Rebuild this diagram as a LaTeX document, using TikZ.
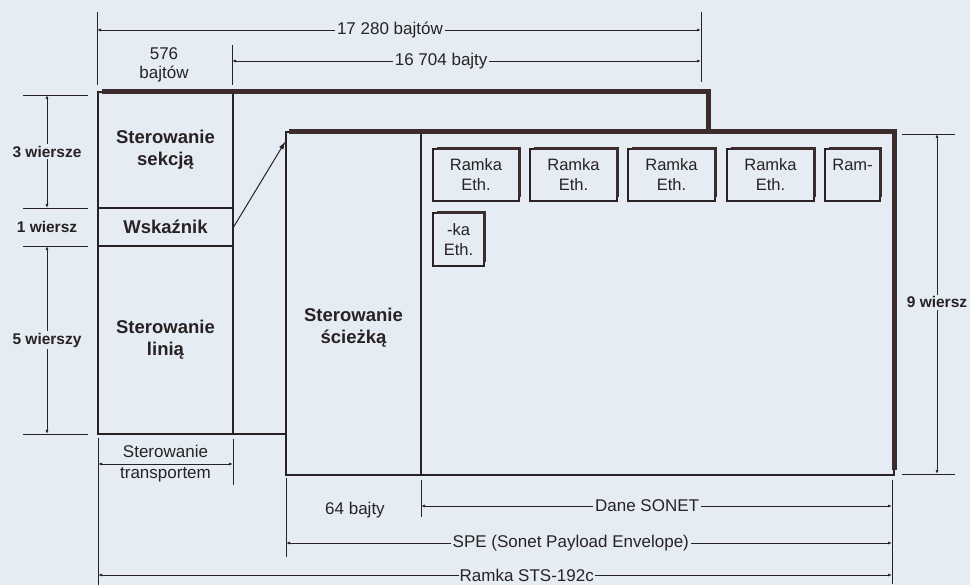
\documentclass[tikz,border=0pt]{standalone}
\usepackage{fontspec}
\setmainfont{Liberation Sans}
\usetikzlibrary{arrows.meta,positioning,calc}
\definecolor{bgpaper}{RGB}{229,236,243}
\definecolor{inkdark}{RGB}{40,34,36}
\definecolor{inkframe}{RGB}{60,44,46}

\begin{document}
\begin{tikzpicture}[x=1pt,y=-1pt,
  cell/.style={draw=inkdark, line width=1.2pt, rectangle, inner sep=0pt, align=center, text=inkdark, font=\fontsize{18.5}{22}\selectfont\bfseries},
  eth/.style={draw=inkdark, line width=1.1pt, rectangle, inner sep=0pt, fill=bgpaper, align=center, text=inkdark, font=\fontsize{16.5}{20}\selectfont},
  lbl/.style={inner sep=2pt, align=center, text=inkdark, font=\fontsize{17}{19}\selectfont},
  rowlbl/.style={inner sep=2pt, fill=bgpaper, text=inkdark, font=\fontsize{15.5}{18}\selectfont\bfseries},
  dim/.style={{Latex[length=4pt,width=3pt]}-{Latex[length=4pt,width=3pt]}, line width=0.9pt, draw=inkdark},
  ext/.style={line width=0.9pt, draw=inkdark},
  heavy/.style={line width=4.5pt, draw=inkframe},
  arr/.style={-{Latex[length=8pt,width=5pt]}, line width=1pt, draw=inkdark}
]
\fill[bgpaper] (0,0) rectangle (970,585);
\useasboundingbox (0,0) rectangle (970,585);

\node[cell, minimum width=610pt, minimum height=342pt] (sts) at (403,263) {};
\node[cell, minimum width=135pt, minimum height=116pt] (soh) at (165.5,150) {Sterowanie\\sekcją};
\node[cell, minimum width=135pt, minimum height=38pt] (ptr) at (165.5,227) {Wskaźnik};
\node[cell, minimum width=135pt, minimum height=188pt] (loh) at (165.5,340) {Sterowanie\\linią};
\draw[heavy] ([xshift=5pt]sts.north west) -- (sts.north east) -- ++(0,42);

\node[cell, fill=bgpaper, minimum width=608pt, minimum height=343pt] (spe) at (590,303.5) {};
\node[cell, minimum width=135pt, minimum height=343pt] (poh) at (353.5,303.5) {};
\node[cell, draw=none] (pohtxt) at (353.5,328) {Sterowanie\\ścieżką};
\draw[heavy] ([xshift=4pt]spe.north west) -- (spe.north east) -- ([yshift=6pt]spe.south east);

\node[eth, minimum width=86pt, minimum height=52pt] (eth1) at (476,175) {Ramka\\Eth.};
\node[eth, minimum width=87pt, minimum height=52pt] (eth2) at (573.5,175) {Ramka\\Eth.};
\node[eth, minimum width=87pt, minimum height=52pt] (eth3) at (671.5,175) {Ramka\\Eth.};
\node[eth, minimum width=87pt, minimum height=52pt] (eth4) at (770.5,175) {Ramka\\Eth.};
\node[eth, minimum width=55pt, minimum height=52pt] (eth5) at (852.5,175) {Ram-\\\mbox{}};
\node[eth, minimum width=51pt, minimum height=53pt] (eth6) at (458.5,239.5) {-ka\\Eth.};
\foreach \b in {eth1,eth2,eth3,eth4,eth5,eth6}
  \draw[heavy, line width=3.5pt] ([xshift=5pt]\b.north west) -- (\b.north east) -- ([yshift=5pt]\b.south east);

\draw[arr] (ptr.east) -- ([yshift=-10pt]spe.north west);

\draw[ext] (97,12) -- (97,85);
\draw[ext] (701,12) -- (701,82);
\draw[ext] (232,45) -- (232,85);
\coordinate (a0) at (97,30);
\coordinate (a1) at (701,30);
\coordinate (b0) at (232,61);
\coordinate (b1) at (701,61);
\draw[dim] (a0) -- node[lbl, fill=bgpaper, pos=0.485] {17 280 bajtów} (a1);
\draw[dim] (b0) -- node[lbl, fill=bgpaper, pos=0.446] {16 704 bajty} (b1);
\node[lbl] (b576) at (164,65) {576\\bajtów};

\foreach \y in {95,208,246,434}
  \draw[ext] (23,\y) -- (88,\y);
\coordinate (r0) at (47,95);
\coordinate (r1) at (47,208);
\coordinate (r2) at (47,246);
\coordinate (r3) at (47,434);
\draw[dim] (r0) -- node[rowlbl] {3 wiersze} (r1);
\node[rowlbl] (w1) at (47,227) {1 wiersz};
\draw[dim] (r2) -- node[rowlbl] {5 wierszy} (r3);

\draw[ext] (98,438) -- (98,585);
\draw[ext] (233,439) -- (233,485);
\draw[ext] (286,478) -- (286,557);
\draw[ext] (421,480) -- (421,517);
\draw[ext] (892,480) -- (892,584);
\coordinate (t0) at (98,464);
\coordinate (t1) at (233,464);
\coordinate (d0) at (421,506);
\coordinate (d1) at (892,506);
\coordinate (s0) at (286,543);
\coordinate (s1) at (892,543);
\coordinate (f0) at (98,575);
\coordinate (f1) at (892,575);
\draw[dim] (t0) -- node[lbl, font=\fontsize{17}{21}\selectfont] {Sterowanie\\transportem} (t1);
\draw[dim] (d0) -- node[lbl, fill=bgpaper, pos=0.48] {Dane SONET} (d1);
\draw[dim] (s0) -- node[lbl, fill=bgpaper, pos=0.47] {SPE (Sonet Payload Envelope)} (s1);
\draw[dim] (f0) -- node[lbl, fill=bgpaper, inner sep=1pt, pos=0.54] {Ramka STS-192c} (f1);
\node[lbl] (b64) at (355,510) {64 bajty};

\draw[ext] (902,134) -- (955,134);
\draw[ext] (902,474) -- (955,474);
\coordinate (n0) at (937,134);
\coordinate (n1) at (937,474);
\draw[dim] (n0) -- node[rowlbl, pos=0.495] {9 wiersz} (n1);
\end{tikzpicture}
\end{document}
